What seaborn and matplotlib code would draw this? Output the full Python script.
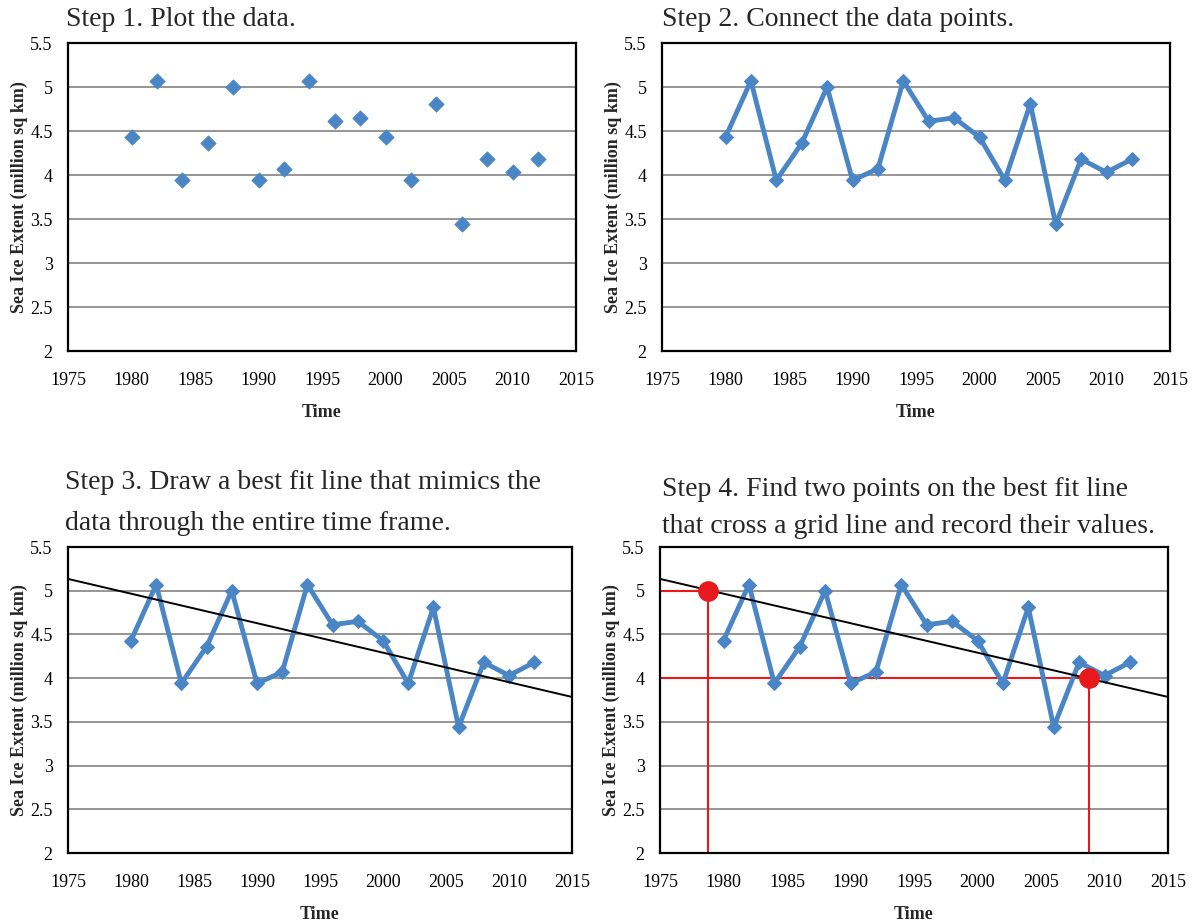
import numpy as np
import pandas as pd
import seaborn as sns
import matplotlib.pyplot as plt

# Sea ice extent readings (every two years)
years = [1980, 1982, 1984, 1986, 1988, 1990, 1992, 1994, 1996,
         1998, 2000, 2002, 2004, 2006, 2008, 2010, 2012]
extent = [4.43, 5.07, 3.94, 4.36, 5.00, 3.94, 4.07, 5.07, 4.61,
          4.65, 4.43, 3.94, 4.81, 3.44, 4.18, 4.03, 4.18]

# hand-drawn best fit line end points
fit_years = [1975, 2015]
fit_values = [5.135, 3.785]

# two points picked on the fit line
pick_years = [1978.8, 2008.8]
pick_values = [5.0, 4.0]

titles = [
    "Step 1. Plot the data.",
    "Step 2. Connect the data points.",
    "Step 3. Draw a best fit line that mimics the\ndata through the entire time frame.",
    "Step 4. Find two points on the best fit line\nthat cross a grid line and record their values.",
]

df = pd.DataFrame({"year": years, "extent": extent})
fit = pd.DataFrame({"year": fit_years, "extent": fit_values})
picks = pd.DataFrame({"year": pick_years, "extent": pick_values})

sns.set_style("white")
plt.rcParams["font.family"] = ["Liberation Serif", "DejaVu Serif"]

BLUE = "#4a86c6"
RED = "#e8191c"

fig = plt.figure(figsize=(11.96, 9.22), dpi=100)
W, H = 1196, 922
# axes boxes in pixels: left, top, right, bottom
boxes = [(68, 43, 576, 351), (662, 43, 1170, 351),
         (68, 547, 572, 853), (660, 547, 1168, 853)]


def setup(ax):
    ax.set_xlim(1975, 2015)
    ax.set_ylim(2, 5.5)
    ax.set_xticks(np.arange(1975, 2016, 5))
    ax.set_yticks(np.arange(2, 5.51, 0.5))
    ax.set_yticklabels([f"{v:g}" for v in np.arange(2, 5.51, 0.5)])
    ax.yaxis.grid(True, color="#8c8c8c", linewidth=1.3)
    ax.xaxis.grid(False)
    ax.set_axisbelow(True)
    for s in ax.spines.values():
        s.set_color("black")
        s.set_linewidth(1.6)
    ax.tick_params(axis="both", direction="out", length=5, width=1.5,
                   labelsize=13, colors="black", pad=6)
    ax.tick_params(axis="x", pad=10)


axes = []
for i, (l, t, r, b) in enumerate(boxes):
    ax = fig.add_axes([l / W, 1 - b / H, (r - l) / W, (b - t) / H])
    setup(ax)
    axes.append(ax)

# Step 1: markers only
sns.scatterplot(data=df, x="year", y="extent", marker="D", s=60,
                color=BLUE, edgecolor=BLUE, ax=axes[0], zorder=3)

# Steps 2-4: connected line
for ax in axes[1:]:
    sns.lineplot(data=df, x="year", y="extent", color=BLUE, linewidth=3.5,
                 marker="D", markersize=7.5, markeredgecolor=BLUE,
                 ax=ax, zorder=3)

# Steps 3-4: best fit line
for ax in axes[2:]:
    sns.lineplot(data=fit, x="year", y="extent", color="black",
                 linewidth=1.4, ax=ax, zorder=4)

# Step 4: red guide lines and picked points
ax = axes[3]
for yr, val in zip(pick_years, pick_values):
    ax.plot([1975, yr], [val, val], color=RED, linewidth=1.5, zorder=2.5)
    ax.plot([yr, yr], [2, val], color=RED, linewidth=1.5, zorder=2.5)
sns.scatterplot(data=picks, x="year", y="extent", color=RED, s=190,
                edgecolor=RED, ax=ax, zorder=5, clip_on=False)

for ax in axes:
    ax.set_xlim(1975, 2015)
    ax.set_ylim(2, 5.5)
    ax.set_xlabel("Time", fontsize=13, fontweight="bold", labelpad=11)
    ax.set_ylabel("Sea Ice Extent (million sq km)", fontsize=13,
                  fontweight="bold", labelpad=2)

# titles
fig.text(66 / W, 1 - 20 / H, titles[0], fontsize=20, ha="left", va="center")
fig.text(662 / W, 1 - 19 / H, titles[1], fontsize=20, ha="left", va="center")
fig.text(65 / W, 1 - 503 / H, titles[2], fontsize=20, ha="left", va="center",
         linespacing=1.85)
fig.text(662 / W, 1 - 508 / H, titles[3], fontsize=20, ha="left", va="center",
         linespacing=1.68)

fig.savefig("out.png", dpi=100)
